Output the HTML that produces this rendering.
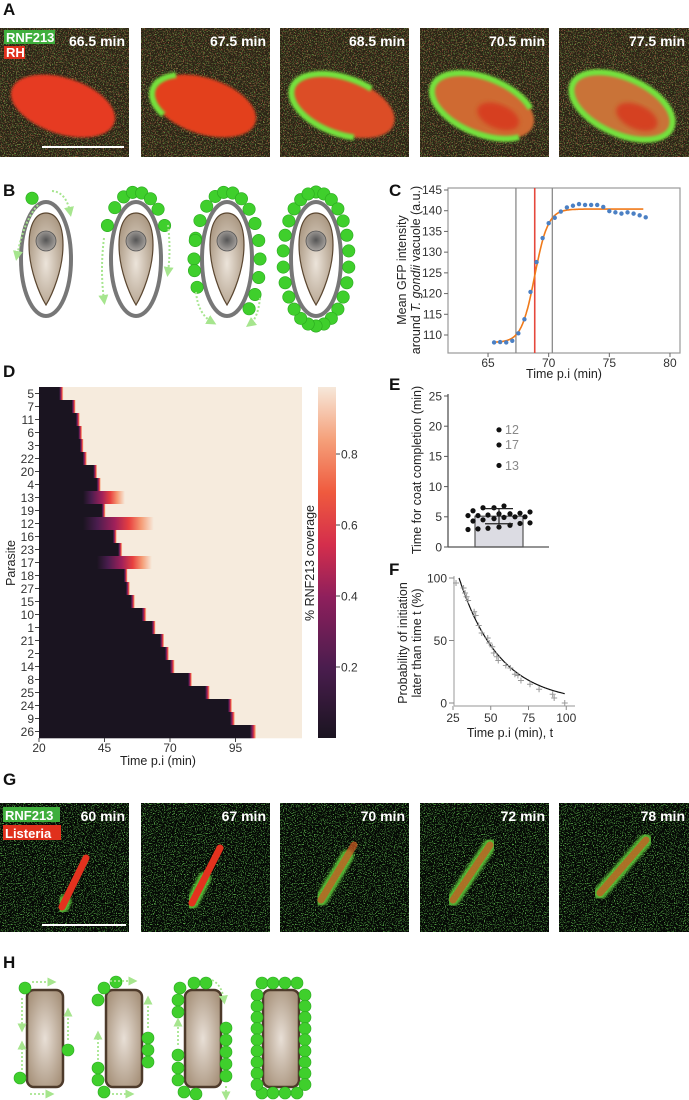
<!DOCTYPE html>
<html><head><meta charset="utf-8"><style>
html,body{margin:0;padding:0;background:#fff;}
svg{display:block;font-family:"Liberation Sans",sans-serif;}
.lbl{font-weight:bold;font-size:17px;fill:#111;}
.tk{font-size:12px;fill:#333;}
.tt{font-size:12.5px;fill:#222;}
.mt{font-weight:bold;font-size:14px;fill:#fff;}
</style></head><body>
<svg id="fig" width="689" height="1100" viewBox="0 0 689 1100">
<defs>
<filter id="specA" x="0" y="0" width="100%" height="100%">
<feTurbulence type="fractalNoise" baseFrequency="0.85" numOctaves="1" seed="3" result="n"/>
<feColorMatrix in="n" type="matrix" values="0 0 0 0 0.7  0 0 0 0 0.2  0 0 0 0 0.1  9 0 0 0 -5.2" result="r"/>
<feTurbulence type="fractalNoise" baseFrequency="0.9" numOctaves="1" seed="8" result="n2"/>
<feColorMatrix in="n2" type="matrix" values="0 0 0 0 0.2  0 0 0 0 0.6  0 0 0 0 0.1  9 0 0 0 -5.2" result="g"/>
<feMerge><feMergeNode in="r"/><feMergeNode in="g"/></feMerge>
</filter>
<filter id="specG" x="0" y="0" width="100%" height="100%">
<feTurbulence type="fractalNoise" baseFrequency="0.9" numOctaves="1" seed="5" result="n"/>
<feColorMatrix in="n" type="matrix" values="0 0 0 0 0.15  0 0 0 0 0.65  0 0 0 0 0.1  10 0 0 0 -5.6"/>
</filter>
<filter id="blur2"><feGaussianBlur stdDeviation="2"/></filter>
<filter id="blur1"><feGaussianBlur stdDeviation="1.2"/></filter>
<radialGradient id="tan" cx="50%" cy="55%" r="60%"><stop offset="0" stop-color="#ece4da"/><stop offset="1" stop-color="#a8957f"/></radialGradient>
<radialGradient id="nuc" cx="50%" cy="45%" r="55%"><stop offset="0" stop-color="#555"/><stop offset="1" stop-color="#a9a4a0"/></radialGradient>
<radialGradient id="rod" cx="50%" cy="50%" r="60%"><stop offset="0" stop-color="#e8dfd6"/><stop offset="1" stop-color="#a8937c"/></radialGradient>
<linearGradient id="cbar" x1="0" y1="1" x2="0" y2="0">
<stop offset="0" stop-color="#1a1420"/><stop offset="0.2" stop-color="#4a1d4e"/><stop offset="0.4" stop-color="#8e1f5c"/><stop offset="0.55" stop-color="#d42e4c"/><stop offset="0.7" stop-color="#ef5a3e"/><stop offset="0.85" stop-color="#f5a07a"/><stop offset="1" stop-color="#f6e8da"/>
</linearGradient>
<marker id="arr" viewBox="0 0 6 6" refX="3" refY="3" markerWidth="5" markerHeight="5" orient="auto"><path d="M0,0 L6,3 L0,6 Z" fill="#a6e58e"/></marker>
</defs>

<text class="lbl" x="3" y="15">A</text>
<text class="lbl" x="3" y="196">B</text>
<text class="lbl" x="389" y="196">C</text>
<text class="lbl" x="3" y="377">D</text>
<text class="lbl" x="389" y="390">E</text>
<text class="lbl" x="389" y="575">F</text>
<text class="lbl" x="3" y="785">G</text>
<text class="lbl" x="3" y="968">H</text>

<g id="panelA"></g>
<g id="panelB"></g>
<g id="panelC"></g>
<g id="panelD"></g>
<g id="panelE"></g>
<g id="panelF"></g>
<g id="panelG"></g>
<g id="panelH"></g>
</svg>
<script>
// Panel C
const cTimes = [65.5,66,66.5,67,67.5,68,68.5,69,69.5,70,70.5,71,71.5,72,72.5,73,73.5,74,74.5,75,75.5,76,76.5,77,77.5,78];
const cValues = [108.2,108.3,108.2,108.6,110.4,113.8,120.4,127.6,133.4,137.0,138.3,139.8,140.8,141.2,141.6,141.4,141.4,141.4,140.9,139.9,139.6,139.3,139.6,139.3,138.9,138.4];
const cFitParams = [108.2, 32.2, 68.85, 0.55];
const cFitRange = [65.5, 77.8];
const cGrayLines = [67.3, 70.3];
const cRedLine = [68.85];
const cYTicks = [110,115,120,125,130,135,140,145];
const cXTicks = [65,70,75,80];
// Panel D
const dParasites = ["5","7","11","6","3","22","20","4","13","19","12","16","23","17","18","27","15","10","1","21","2","14","8","25","24","9","26"];
const dOnset = [27.7,32.5,34.1,35.0,35.6,36.7,40.7,42.0,36.8,43.9,36.8,48.2,50.2,42.1,52.4,53.2,55.0,59.2,63.0,66.2,68.1,70.0,76.9,83.4,92.1,92.9,100.5];
const dDuration = [1.6,1.5,1.5,1.5,1.4,1.6,1.5,1.6,16,1.5,27,1.5,1.6,21,1.4,1.5,1.6,1.8,1.5,1.6,1.5,1.8,1.5,1.8,1.6,1.9,2.4];
const dXTicks = [20,45,70,95];
const dCbarTicks = [0.2,0.4,0.6,0.8];
// Panel E
const eValues = [5.5,5.2,6.5,6.8,6.5,5.8,5.0,4.9,5.3,5.5,4.3,4.0,3.3,3.0,2.9,3.1,3.6,4.5,5.0,5.2,6.0,4.7,3.9,5.6];
const eOutliers = [19.4,16.9,13.5];
const eOutlierLabels = ["12","17","13"];
const eMean = [5.1];
const eSD = [1.25];
const eYTicks = [0,5,10,15,20,25];
// Panel F
const fTimes = [27,32,33,34,35,39,40,42,44,48,49,51,52,54,55,60,63,66,68,70,76,82,91,92,99];
const fProb = [96,92,88,85,82,73,70,62,56,52,48,45,40,37,34,30,28,23,22,18,15,11,7,4,0];
const fFitParams = [29, 27];
const fFitRange = [29, 99];
const fXTicks = [25,50,75,100];
const fYTicks = [0,50,100];

const NS="http://www.w3.org/2000/svg";
function mk(parent, tag, attrs, text){const e=document.createElementNS(NS,tag);for(const k in attrs)e.setAttribute(k,attrs[k]);if(text!==undefined)e.textContent=text;parent.appendChild(e);return e;}

// Panel A
(function(){
const g=document.getElementById('panelA');
const xs=[0,141,280,420,559], labels=["66.5 min","67.5 min","68.5 min","70.5 min","77.5 min"];
const cover=[0,22,66,86,100];
const interior=["#e63a22","#e3401f","#dc4e28","#cf6a32","#c97338"];
const rots=[18,18,20,22,24];
for(let i=0;i<5;i++){
 const x=xs[i], y=28, w=(i==4?130:129), h=129;
 const c=mk(g,'g',{});
 
 
 mk(c,'rect',{x:x,y:y,width:w,height:h,fill:'#2c2416'});
 mk(c,'rect',{x:x,y:y,width:w,height:h,fill:'#000',filter:'url(#specA)',opacity:0.6});
 const cx=x+63, cy=y+78;
 mk(c,'ellipse',{cx:cx,cy:cy,rx:54,ry:28,fill:interior[i],transform:`rotate(${rots[i]} ${cx} ${cy})`,filter:'url(#blur1)'});
 if(i>=3) mk(c,'ellipse',{cx:cx+18,cy:cy+4,rx:22,ry:12,fill:'#d8351e',transform:`rotate(${rots[i]} ${cx} ${cy})`,filter:'url(#blur2)',opacity:0.8});
 if(cover[i]>0){
  const L=cover[i];
  mk(c,'ellipse',{cx:cx,cy:cy,rx:54,ry:28,fill:'none',stroke:'#74e23c','stroke-width':6,pathLength:100,
   'stroke-dasharray':L>=100?'100 0':`${L} ${100-L}`,'stroke-dashoffset':-(50-L/2),
   transform:`rotate(${rots[i]} ${cx} ${cy})`,filter:'url(#blur1)'});
 }
 const t=mk(c,'text',{class:'mt',x:x+w-4,y:y+18,'text-anchor':'end'},labels[i]);
 
 
}
mk(g,'rect',{x:4,y:30,width:51,height:14,fill:'#3fae3c'});
const t1=mk(g,'text',{x:6,y:42,'font-size':'13px','font-weight':'bold',fill:'#fff'},'RNF213');
 
mk(g,'rect',{x:4,y:46,width:21,height:13,fill:'#e0301c'});
const t2=mk(g,'text',{x:6,y:57,'font-size':'13px','font-weight':'bold',fill:'#fff'},'RH');
 
const sb=mk(g,'line',{x1:42,y1:147,x2:124,y2:147,stroke:'#fff','stroke-width':2});
 
})();

// Panel B
(function(){
const g=document.getElementById('panelB');
const cxs=[46,136,227,316], cy=259;
const dotSets=[[-115],[-150,-130,-112,-96,-80,-64,-48,-30],
 [-180,-162,-145,-128,-111,-96,-80,-64,-48,-32,-16,0,16,32,48,155,170,196],
 null];
for(let i=0;i<4;i++){
 const cx=cxs[i];
 const c=mk(g,'g',{});
 
 
 mk(c,'ellipse',{cx:cx,cy:cy,rx:25,ry:57,fill:'#fff',stroke:'#777','stroke-width':4});
 mk(c,'path',{d:`M${cx-17},245 C${cx-17},222 ${cx-9},213 ${cx},213 C${cx+9},213 ${cx+17},222 ${cx+17},245 C${cx+17},270 ${cx+6},295 ${cx},305 C${cx-6},295 ${cx-17},270 ${cx-17},245 Z`,fill:'url(#tan)',stroke:'#5a4630','stroke-width':1.2});
 mk(c,'circle',{cx:cx,cy:241,r:10,fill:'url(#nuc)',stroke:'#555','stroke-width':0.8});
 let angs=dotSets[i];
 if(!angs){angs=[];for(let k=0;k<26;k++)angs.push(-90+k*360/26);}
 angs.forEach(a=>{const r=a*Math.PI/180;
  const d=mk(c,'circle',{cx:cx+33*Math.cos(r),cy:cy+67*Math.sin(r),r:6.2,fill:'#3fcf2c',stroke:'#2aa81f','stroke-width':0.6});
   });
}
const arrows=['M52,191 Q66,192 70,212','M38,205 Q24,220 17,256','M168,225 Q171,250 168,272','M104,238 Q100,270 104,300','M260,298 Q258,318 250,324','M196,292 Q198,314 212,322'];
arrows.forEach(d=>{const p=mk(g,'path',{d:d,fill:'none',stroke:'#a6e58e','stroke-width':2,'stroke-dasharray':'2 2','marker-end':'url(#arr)'});
  });
})();

// Panel C
(function(){
const g=document.getElementById('panelC');
const X=t=>448+(t-61.7)*12.13, Y=v=>190+(145-v)*4.143;
mk(g,'rect',{x:448,y:188,width:232,height:165,fill:'none',stroke:'#999','stroke-width':1.2});
cYTicks.forEach(v=>{mk(g,'line',{x1:444,x2:448,y1:Y(v),y2:Y(v),stroke:'#666'});
 const t=mk(g,'text',{class:'tk',x:442,y:Y(v)+4,'text-anchor':'end'},v);
  });
cXTicks.forEach(v=>{mk(g,'line',{x1:X(v),x2:X(v),y1:353,y2:357,stroke:'#666'});
 const t=mk(g,'text',{class:'tk',x:X(v),y:367,'text-anchor':'middle'},v);
  });
cGrayLines.forEach(v=>{const l=mk(g,'line',{x1:X(v),x2:X(v),y1:188,y2:353,stroke:'#8a8a8a','stroke-width':1.3});
  });
cRedLine.forEach(v=>{const l=mk(g,'line',{x1:X(v),x2:X(v),y1:188,y2:353,stroke:'#e5483c','stroke-width':1.6});
  });
let pts=[];for(let t=cFitRange[0];t<=cFitRange[1]+1e-6;t+=0.05){const v=cFitParams[0]+cFitParams[1]/(1+Math.exp(-(t-cFitParams[2])/cFitParams[3]));pts.push(X(t).toFixed(1)+','+Y(v).toFixed(1));}
const fl=mk(g,'polyline',{points:pts.join(' '),fill:'none',stroke:'#f07a1a','stroke-width':1.6});
 
cTimes.forEach((t,i)=>{const d=mk(g,'circle',{cx:X(t),cy:Y(cValues[i]),r:2.2,fill:'#4b80c4'});
  });
const xt=mk(g,'text',{class:'tt',x:564,y:378,'text-anchor':'middle'},'Time p.i (min)');
 
const yt=mk(g,'text',{class:'tt',transform:'translate(406,270) rotate(-90)','text-anchor':'middle'},'Mean GFP intensity');
 
const yt2=mk(g,'text',{class:'tt',transform:'translate(420,270) rotate(-90)','text-anchor':'middle'});
 
yt2.appendChild(document.createTextNode('around '));
mk(yt2,'tspan',{'font-style':'italic'},'T. gondii');
yt2.appendChild(document.createTextNode(' vacuole (a.u.)'));
})();

// Panel D
(function(){
const g=document.getElementById('panelD');
const X=t=>39+(t-20)*2.62, top=387, rh=13, left=39, right=302, W=right-left;
const defs=document.querySelector('defs');
const stops=[[0,'#1a1420'],[0.2,'#4a1d4e'],[0.45,'#a0205a'],[0.65,'#e8403f'],[0.82,'#f59b74'],[1,'#f6ebdd']];
dParasites.forEach((p,i)=>{
 const x0=X(dOnset[i]), x1=X(dOnset[i]+dDuration[i]);
 const lg=mk(defs,'linearGradient',{id:'rg'+i,gradientUnits:'userSpaceOnUse',x1:x0,x2:x1,y1:0,y2:0});
 stops.forEach(s=>mk(lg,'stop',{offset:s[0],'stop-color':s[1]}));
 const r=mk(g,'rect',{x:left,y:top+i*rh,width:W,height:rh+0.3,fill:'url(#rg'+i+')'});
  
 mk(g,'line',{x1:35,x2:39,y1:top+i*rh+rh/2,y2:top+i*rh+rh/2,stroke:'#444'});
 const t=mk(g,'text',{class:'tk',x:34,y:top+i*rh+rh/2+4.3,'text-anchor':'end'},p);
  
});
dXTicks.forEach(v=>{mk(g,'line',{x1:X(v),x2:X(v),y1:738,y2:742,stroke:'#444'});
 const t=mk(g,'text',{class:'tk',x:X(v),y:752,'text-anchor':'middle'},v);
  });
const xt=mk(g,'text',{class:'tt',x:158,y:765,'text-anchor':'middle'},'Time p.i (min)');
 
const yt=mk(g,'text',{class:'tt',transform:'translate(15,563) rotate(-90)','text-anchor':'middle'},'Parasite');
 
const cb=mk(g,'rect',{x:318,y:387,width:18,height:351,fill:'url(#cbar)'});
 
const CY=v=>738-v*355;
dCbarTicks.forEach(v=>{mk(g,'line',{x1:336,x2:340,y1:CY(v),y2:CY(v),stroke:'#444'});
 const t=mk(g,'text',{class:'tk',x:341,y:CY(v)+4.3},v.toFixed(1));
  });
const ct=mk(g,'text',{class:'tt',transform:'translate(314,563) rotate(-90)','text-anchor':'middle'},'% RNF213 coverage');
 
})();

// Panel E
(function(){
const g=document.getElementById('panelE');
const Y=v=>547-v*6.04;
const bx0=475,bx1=523,bc=499;
const bar=mk(g,'rect',{x:bx0,y:Y(eMean[0]),width:bx1-bx0,height:547-Y(eMean[0]),fill:'#dcdce3',stroke:'#555','stroke-width':1.2});
 
mk(g,'line',{x1:448,x2:448,y1:394,y2:547,stroke:'#555','stroke-width':1.3});
mk(g,'line',{x1:448,x2:549,y1:547,y2:547,stroke:'#555','stroke-width':1.3});
eYTicks.forEach(v=>{mk(g,'line',{x1:444,x2:448,y1:Y(v),y2:Y(v),stroke:'#555'});
 const t=mk(g,'text',{class:'tk',x:442,y:Y(v)+4.3,'text-anchor':'end'},v);
  });
const offs=[-31,-21,-11,0,11,21,31,-26,-16,-5,5,16,26];
const sorted=eValues.map((v,i)=>[v,i]).sort((a,b)=>a[0]-b[0]);
sorted.forEach((s,k)=>{const d=mk(g,'circle',{cx:bc+offs[k%offs.length],cy:Y(s[0]),r:2.6,fill:'#111'});
  });
const m=eMean[0],s=eSD[0];
const eb=mk(g,'path',{d:`M${bc},${Y(m-s)} V${Y(m+s)} M${bc-14},${Y(m+s)} H${bc+14} M${bc-14},${Y(m-s)} H${bc+14}`,stroke:'#222','stroke-width':1.2,fill:'none'});
 
eOutliers.forEach((v,i)=>{const d=mk(g,'circle',{cx:bc,cy:Y(v),r:2.6,fill:'#111'});
  
 const t=mk(g,'text',{x:bc+6,y:Y(v)+4.3,'font-size':'12.5px',fill:'#888'},eOutlierLabels[i]);
  });
const yt=mk(g,'text',{class:'tt',transform:'translate(421,470) rotate(-90)','text-anchor':'middle'},'Time for coat completion (min)');
 
})();

// Panel F
(function(){
const g=document.getElementById('panelF');
const X=t=>453+(t-25)*1.51, Y=p=>703-p*1.25;
mk(g,'line',{x1:454,x2:454,y1:576,y2:706,stroke:'#aaa','stroke-width':1.2});
mk(g,'line',{x1:454,x2:575,y1:706,y2:706,stroke:'#aaa','stroke-width':1.2});
fYTicks.forEach(v=>{mk(g,'line',{x1:449,x2:454,y1:Y(v),y2:Y(v),stroke:'#888'});
 const t=mk(g,'text',{class:'tk',x:447,y:Y(v)+4.3,'text-anchor':'end'},v);
  });
fXTicks.forEach(v=>{mk(g,'line',{x1:X(v),x2:X(v),y1:706,y2:710,stroke:'#888'});
 const t=mk(g,'text',{class:'tk',x:X(v),y:722,'text-anchor':'middle'},v);
  });
let pts=[];for(let t=fFitRange[0];t<=fFitRange[1]+1e-6;t+=0.5){pts.push(X(t).toFixed(1)+','+Y(100*Math.exp(-(t-fFitParams[0])/fFitParams[1])).toFixed(1));}
const fl=mk(g,'polyline',{points:pts.join(' '),fill:'none',stroke:'#111','stroke-width':1.2});
 
fTimes.forEach((t,i)=>{const x=X(t),y=Y(fProb[i]);
 const c=mk(g,'path',{d:`M${x-3},${y} H${x+3} M${x},${y-3} V${y+3}`,stroke:'#999','stroke-width':1});
  });
const xt=mk(g,'text',{class:'tt',x:510,y:737,'text-anchor':'middle'},'Time p.i (min), t');
 
const y1=mk(g,'text',{class:'tt',transform:'translate(407,643) rotate(-90)','text-anchor':'middle'},'Probability of initiation');
 
const y2=mk(g,'text',{class:'tt',transform:'translate(421,643) rotate(-90)','text-anchor':'middle'},'later than time t (%)');
 
})();

// Panel G
(function(){
const g=document.getElementById('panelG');
const xs=[0,141,280,420,559], labels=["60 min","67 min","70 min","72 min","78 min"];
const rods=[[62,104,86,55],[51,100,79,45],[41,97,74,42],[33,97,70,42],[41,90,87,37]];
const coat=[12,45,80,100,100];
for(let i=0;i<5;i++){
 const x=xs[i],y=803,w=(i==4?130:129),h=129;
 const c=mk(g,'g',{});
 
 
 mk(c,'rect',{x:x,y:y,width:w,height:h,fill:'#060906'});
 mk(c,'rect',{x:x,y:y,width:w,height:h,fill:'#000',filter:'url(#specG)',opacity:0.75});
 const r=rods[i];
 const L=coat[i];
 mk(c,'line',{x1:x+r[0],y1:y+r[1],x2:x+r[2],y2:y+r[3],stroke:'#62d23a','stroke-width':13,'stroke-linecap':'round',pathLength:100,'stroke-dasharray':`${L} 100`,opacity:0.85,filter:'url(#blur1)'});
 mk(c,'line',{x1:x+r[0],y1:y+r[1],x2:x+r[2],y2:y+r[3],stroke:i<2?'#e3321e':'#c85a22','stroke-width':7,'stroke-linecap':'round',opacity:i<2?1:0.75});
 const t=mk(c,'text',{class:'mt',x:x+w-4,y:y+18,'text-anchor':'end'},labels[i]);
 
 
}
mk(g,'rect',{x:3,y:807,width:57,height:15,fill:'#3fae3c'});
const t1=mk(g,'text',{x:5,y:820,'font-size':'13px','font-weight':'bold',fill:'#fff'},'RNF213');
 
mk(g,'rect',{x:3,y:825,width:58,height:15,fill:'#e0301c'});
const t2=mk(g,'text',{x:5,y:838,'font-size':'13px','font-weight':'bold',fill:'#fff'},'Listeria');
 
const sb=mk(g,'line',{x1:42,y1:925,x2:126,y2:925,stroke:'#fff','stroke-width':2});
 
})();

// Panel H
(function(){
const g=document.getElementById('panelH');
const cxs=[45,124,203,281];
const dots=[
 [[25,988],[68,1050],[20,1078]],
 [[104,988],[116,982],[98,1000],[148,1038],[148,1050],[148,1062],[98,1068],[98,1080],[104,1092]],
 [[180,988],[194,983],[206,983],[178,1000],[178,1012],[226,1028],[226,1040],[226,1052],[226,1064],[226,1076],[178,1055],[178,1068],[178,1080],[184,1092],[196,1094]],
 []];
[262,273,285,297].forEach(x=>{dots[3].push([x,983]);dots[3].push([x,1093]);});
for(let y=995;y<=1085;y+=11.2){dots[3].push([257,y]);dots[3].push([305,y]);}
for(let i=0;i<4;i++){
 const cx=cxs[i];
 const r=mk(g,'rect',{x:cx-18,y:990,width:36,height:97,rx:7,fill:'url(#rod)',stroke:'#4d3a2a','stroke-width':2.5});
  
 dots[i].forEach(p=>{const d=mk(g,'circle',{cx:p[0],cy:p[1],r:6,fill:'#3fcf2c',stroke:'#2aa81f','stroke-width':0.6});
   });
}
const arrows=['M32,982 H52','M22,998 V1028','M68,1040 V1012','M22,1070 V1045','M30,1094 H50',
 'M110,981 H133','M148,1028 V1000','M98,1060 V1035','M112,1094 H130',
 'M212,980 Q222,985 224,1000','M226,1086 V1096','M178,1045 V1022'];
arrows.forEach(d=>{const p=mk(g,'path',{d:d,fill:'none',stroke:'#a6e58e','stroke-width':1.8,'stroke-dasharray':'2 2','marker-end':'url(#arr)'});
  });
})();
</script>
</body></html>
